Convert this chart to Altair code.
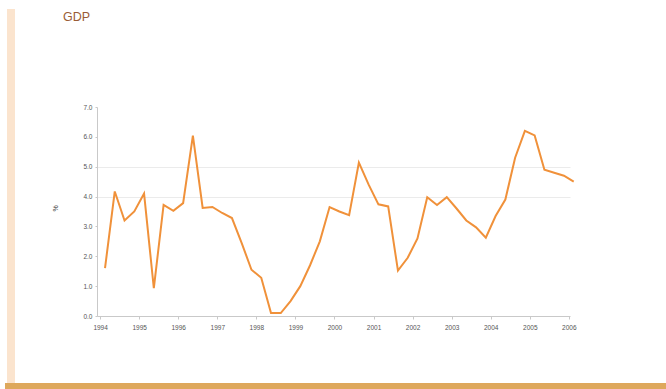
import altair as alt
import pandas as pd

# Quarterly GDP growth (%), 1994 Q1 .. 2006 Q1
start_year = 1994
gdp = [
    1.6, 4.17, 3.2, 3.5,      # 1994
    4.1, 0.93, 3.72, 3.52,    # 1995
    3.78, 6.04, 3.62, 3.65,   # 1996
    3.45, 3.28, 2.44, 1.55,   # 1997
    1.28, 0.1, 0.1, 0.5,      # 1998
    1.0, 1.7, 2.5, 3.65,      # 1999
    3.5, 3.38, 5.14, 4.4,     # 2000
    3.74, 3.67, 1.52, 1.95,   # 2001
    2.6, 3.98, 3.72, 3.98,    # 2002
    3.6, 3.2, 2.97, 2.62,     # 2003
    3.35, 3.9, 5.3, 6.2,      # 2004
    6.05, 4.9, 4.8, 4.7,      # 2005
    4.5,                      # 2006
]
year_ticks = list(range(1994, 2007))
y_ticks = [0, 1, 2, 3, 4, 5, 6, 7]

# place each quarter at its mid-point on a continuous year axis
t = [start_year + (i + 0.5) / 4 for i in range(len(gdp))]
df = pd.DataFrame({"t": t, "gdp": gdp})

W, H = 473, 209
PAD = {"left": 97, "top": 107, "right": 96, "bottom": 73}

axis_common = dict(
    labelFont="Liberation Sans",
    labelFontSize=6.5,
    labelColor="#555555",
    domainColor="#c9c9c9",
    tickColor="#c9c9c9",
)

line = (
    alt.Chart(df)
    .mark_line(color="#F0913A", strokeWidth=2)
    .encode(
        x=alt.X(
            "t:Q",
            scale=alt.Scale(domain=[1993.92, 2006.03], nice=False, zero=False),
            axis=alt.Axis(
                values=year_ticks,
                format="d",
                grid=False,
                tickSize=3,
                labelPadding=5,
                title=None,
                **axis_common,
            ),
        ),
        y=alt.Y(
            "gdp:Q",
            scale=alt.Scale(domain=[0, 7], nice=False),
            axis=alt.Axis(
                values=y_ticks,
                format=".1f",
                tickSize=2,
                labelPadding=3,
                grid=True,
                gridColor="#ebebeb",
                gridOpacity={"condition": {"test": "datum.value == 4 || datum.value == 5", "value": 1}, "value": 0},
                title="%",
                titleFont="Liberation Sans",
                titleFontSize=7,
                titleFontWeight="normal",
                titleColor="#444444",
                titleX=-42,
                titleY=101,
                titleAlign="center",
                titleBaseline="middle",
                **axis_common,
            ),
        ),
    )
)

one = pd.DataFrame({"label": ["GDP"]})

# page decoration: pale side stripe and ochre footer band
side_stripe = alt.Chart(one).mark_rect(color="#FBE4CE").encode(
    x=alt.value(-90), x2=alt.value(-82), y=alt.value(-98), y2=alt.value(276)
)
footer_band = alt.Chart(one).mark_rect(color="#DEA85C").encode(
    x=alt.value(-92), x2=alt.value(569), y=alt.value(276), y2=alt.value(282)
)
heading = alt.Chart(one).mark_text(
    align="left", baseline="alphabetic", font="Liberation Sans",
    fontSize=12.5, color="#9A5C36",
).encode(text="label:N", x=alt.value(-34), y=alt.value(-86))

chart = (
    alt.layer(side_stripe, footer_band, heading, line)
    .properties(
        width=W, height=H,
        autosize=alt.AutoSizeParams(type="none"),
        padding=PAD,
        background="white",
    )
    .configure_view(strokeWidth=0, stroke="transparent")
)

chart.save("out.html", embed_options={"renderer": "svg", "actions": False})
